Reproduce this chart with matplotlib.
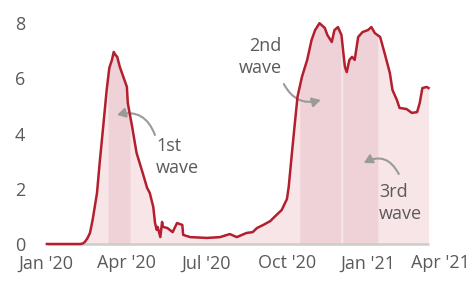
import matplotlib
matplotlib.use("Agg")
import matplotlib.pyplot as plt
from matplotlib.transforms import ScaledTranslation
import numpy as np

# days since 2020-01-01 and 7-day average values
days = [1, 39, 42, 44, 47, 50, 53, 58, 61, 65, 69, 72, 75, 77, 79, 81, 84, 88,
        92, 93, 98, 103, 110, 115, 118, 122, 124, 126, 127, 130, 132, 133, 138,
        144, 149, 155, 156, 164, 183, 198, 209, 217, 228, 235, 240, 247, 255,
        262, 268, 274, 276, 280, 283, 286, 291, 297, 302, 306, 311, 317, 320,
        325, 328, 332, 336, 339, 340, 342, 345, 348, 351, 355, 360, 366, 370,
        374, 380, 385, 391, 394, 399, 402, 410, 416, 422, 425, 428, 433, 435]
values = [0.0, 0.0, 0.02, 0.07, 0.2, 0.4, 0.87, 1.85, 2.93, 4.24, 5.58, 6.38,
          6.67, 6.96, 6.85, 6.78, 6.41, 6.05, 5.69, 5.11, 4.24, 3.30, 2.57,
          2.03, 1.85, 1.34, 0.76, 0.51, 0.62, 0.25, 0.80, 0.62, 0.58, 0.43,
          0.76, 0.69, 0.33, 0.25, 0.22, 0.25, 0.36, 0.25, 0.40, 0.43, 0.58,
          0.69, 0.83, 1.05, 1.23, 1.63, 2.07, 3.41, 4.38, 5.33, 6.05, 6.67,
          7.39, 7.75, 8.0, 7.83, 7.57, 7.32, 7.75, 7.86, 7.57, 6.67, 6.41, 6.23,
          6.67, 6.78, 6.67, 7.5, 7.68, 7.75, 7.86, 7.64, 7.5, 6.92, 6.20, 5.58,
          5.22, 4.93, 4.89, 4.75, 4.78, 5.11, 5.65, 5.69, 5.65]

# wave periods (days since 2020-01-01)
wave_starts = [70.5, 288.6, 337.5]
wave_ends = [95.5, 335.0, 377.3]
wave_labels = ["1st\nwave", "2nd\nwave", "3rd\nwave"]

xtick_days = [0, 91, 182, 274, 366, 456]
xtick_labels = ["Jan '20", "Apr '20", "Jul '20", "Oct '20", "Jan '21", "Apr '21"]
yticks = [0, 2, 4, 6, 8]

plt.rcParams['font.family'] = ['Open Sans', 'DejaVu Sans']

W, H = 475, 286
fig = plt.figure(figsize=(W / 100, H / 100), dpi=100)
x_left, x_right = 46, 447
y0_px = 244
px_per_unit = 27.6
ytop = 8.3
ax = fig.add_axes([x_left / W, (H - y0_px) / H, (x_right - x_left) / W,
                   ytop * px_per_unit / H])
ax.set_xlim(0, 456)
ax.set_ylim(0, ytop)

d = np.array(days, dtype=float)
v = np.array(values, dtype=float)

light = "#f7e5e8"
band = "#efd2d7"
red = "#b31f2e"
grey = "#5a5a5a"
fs = 13

ax.fill_between(d, 0, v, color=light, linewidth=0, zorder=1)
for s, e in zip(wave_starts, wave_ends):
    m = (d >= s) & (d <= e)
    xs = np.concatenate([[s], d[m], [e]])
    ys = np.interp(xs, d, v)
    ax.fill_between(xs, 0, ys, color=band, linewidth=0, zorder=2)

ax.plot([d[0], d[-1]], [0, 0], color="#cccccc", lw=1.8, zorder=3,
        solid_capstyle='butt', clip_on=False)
ax.plot(d, v, color=red, lw=1.8, zorder=4, clip_on=False,
        solid_joinstyle='round')

for s in ax.spines.values():
    s.set_visible(False)
ax.set_xticks(xtick_days)
ax.set_xticklabels(xtick_labels)
ax.set_yticks(yticks)
ax.tick_params(length=0, labelsize=fs, labelcolor=grey)
ax.tick_params(axis='y', pad=15)
ax.tick_params(axis='x', pad=7.5)
lab = ax.get_xticklabels()[-1]
lab.set_transform(lab.get_transform() + ScaledTranslation(-7 / 100, 0, fig.dpi_scale_trans))

# annotations (positions in data coords)
def px2data(px, py):
    return ((px - x_left) / 0.88, (y0_px - py) / px_per_unit)

arrow_kw = dict(arrowstyle="-|>,head_length=0.5,head_width=0.28", color="#9a9a9a",
                lw=1.5, shrinkA=0, shrinkB=0)

ax.text(*px2data(156, 137), wave_labels[0], ha='left', va='top', fontsize=fs,
        color=grey, linespacing=1.3)
ax.annotate("", xy=px2data(117, 115), xytext=px2data(155, 135),
            arrowprops=dict(connectionstyle="arc3,rad=0.45", **arrow_kw))

ax.text(*px2data(282, 37), wave_labels[1], ha='right', va='top', fontsize=fs,
        color=grey, linespacing=1.3)
ax.annotate("", xy=px2data(321, 100), xytext=px2data(284, 84),
            arrowprops=dict(connectionstyle="arc3,rad=0.4", **arrow_kw))

ax.text(*px2data(379, 183), wave_labels[2], ha='left', va='top', fontsize=fs,
        color=grey, linespacing=1.3)
ax.annotate("", xy=px2data(364, 163), xytext=px2data(399, 174),
            arrowprops=dict(connectionstyle="arc3,rad=0.5", **arrow_kw))

fig.savefig("out.png", dpi=100)
